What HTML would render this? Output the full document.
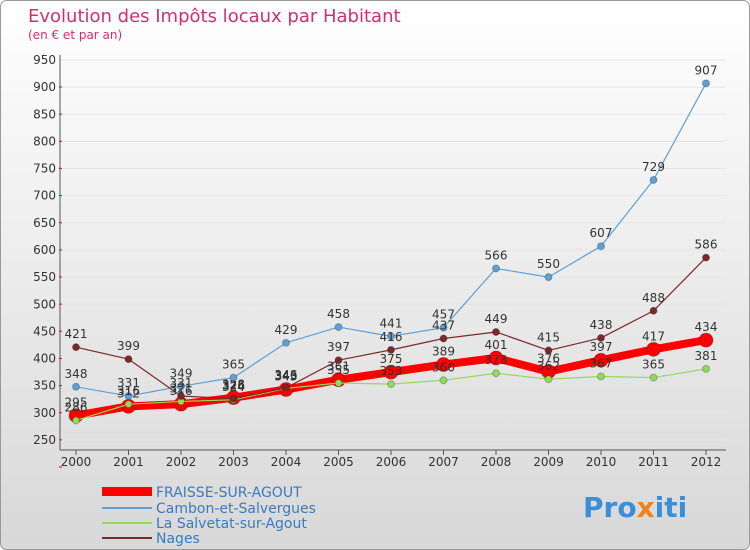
<!DOCTYPE html>
<html><head><meta charset="utf-8"><style>
body{margin:0;background:#fff}
svg{display:block;font-family:"DejaVu Sans","Liberation Sans",sans-serif}
</style></head><body>
<svg id="c" width="750" height="550">
<defs><linearGradient id="bg" x1="0" y1="0" x2="0" y2="1"><stop offset="0" stop-color="#ffffff"/><stop offset="1" stop-color="#d8d8d8"/></linearGradient></defs>
<rect x="0.5" y="0.5" width="749" height="549" rx="6" fill="url(#bg)" stroke="#999"/>
<text x="28" y="22" font-size="18" fill="#d03070">Evolution des Impôts locaux par Habitant</text>
<text x="28" y="39" font-size="12" fill="#d03070">(en € et par an)</text>
<g id="plot"></g>
<g>
<rect x="102" y="487" width="50" height="9" fill="#ff0000"/>
<text x="156" y="497" font-size="14" fill="#3b7ac0">FRAISSE-SUR-AGOUT</text>
<rect x="102" y="507" width="50" height="2" fill="#5fa0d6"/>
<text x="156" y="513" font-size="14" fill="#3b7ac0">Cambon-et-Salvergues</text>
<rect x="102" y="522" width="50" height="2" fill="#8fdc5a"/>
<text x="156" y="528" font-size="14" fill="#3b7ac0">La Salvetat-sur-Agout</text>
<rect x="102" y="537" width="50" height="2" fill="#7a2a2a"/>
<text x="156" y="543" font-size="14" fill="#3b7ac0">Nages</text>
</g>
<text x="583" y="517" font-size="28" font-weight="bold" fill="#3b8fd8">Pro<tspan fill="#f08020">x</tspan>iti</text>
</svg>
<script>
const years=["2000","2001","2002","2003","2004","2005","2006","2007","2008","2009","2010","2011","2012"];
const yTicks=[250,300,350,400,450,500,550,600,650,700,750,800,850,900,950];
const fraisse=[295,312,316,328,343,361,375,389,401,376,397,417,434];
const cambon=[348,331,349,365,429,458,441,457,566,550,607,729,907];
const salvetat=[286,316,321,324,345,355,353,360,373,362,367,365,381];
const nages=[421,399,331,326,346,397,416,437,449,415,438,488,586];
const NS="http://www.w3.org/2000/svg";
const g=document.getElementById('plot');
const X0=76,X1=706,Y0=440,Y1=60;
const x=i=>X0+(X1-X0)*i/(years.length-1);
const y=v=>Y0-(v-250)*(Y0-Y1)/700;
function mk(t,a,p){const e=document.createElementNS(NS,t);for(const k in a)e.setAttribute(k,a[k]);(p||g).appendChild(e);return e;}
let e;
yTicks.forEach(v=>{
 e=mk('line',{x1:60,x2:X1+20,y1:y(v),y2:y(v),stroke:'#e6e6e6'});
 
 
 e=mk('text',{x:56,y:y(v)+4,'font-size':12,'text-anchor':'end',fill:'#333'});e.textContent=v;
 
 
 e=mk('line',{x1:59,x2:62,y1:y(v)+27,y2:y(v)+27,stroke:'#f00'});
 
 
});
e=mk('line',{x1:60,x2:60,y1:55,y2:450,stroke:'#555'});


e=mk('line',{x1:60,x2:X1+20,y1:450,y2:450,stroke:'#555'});


years.forEach((yr,i)=>{
 e=mk('line',{x1:x(i),x2:x(i),y1:450,y2:455,stroke:'#555'});
 
 
 e=mk('text',{x:x(i),y:466,'font-size':12,'text-anchor':'middle',fill:'#333'});e.textContent=yr;
 
 
});
function series(d,col,w,r,name){
 e=mk('polyline',{points:d.map((v,i)=>x(i)+','+y(v)).join(' '),fill:'none',stroke:col,'stroke-width':w,'stroke-linejoin':'round'});
 
 
 d.forEach((v,i)=>{
  e=mk('circle',{cx:x(i),cy:y(v),r:r,fill:col,stroke:'rgba(0,0,0,0.25)'});
  
  
  e=mk('text',{x:x(i),y:y(v)-9,'font-size':12,'text-anchor':'middle',fill:'#333'});e.textContent=v;
  
  
 });
}
series(fraisse,'#ff0000',8,7,'fraisse');
series(cambon,'#5fa0d6',1.2,3.5,'cambon');
series(salvetat,'#8fdc5a',1.2,3.5,'salvetat');
series(nages,'#7a2a2a',1.2,3.5,'nages');
</script>
</body></html>
